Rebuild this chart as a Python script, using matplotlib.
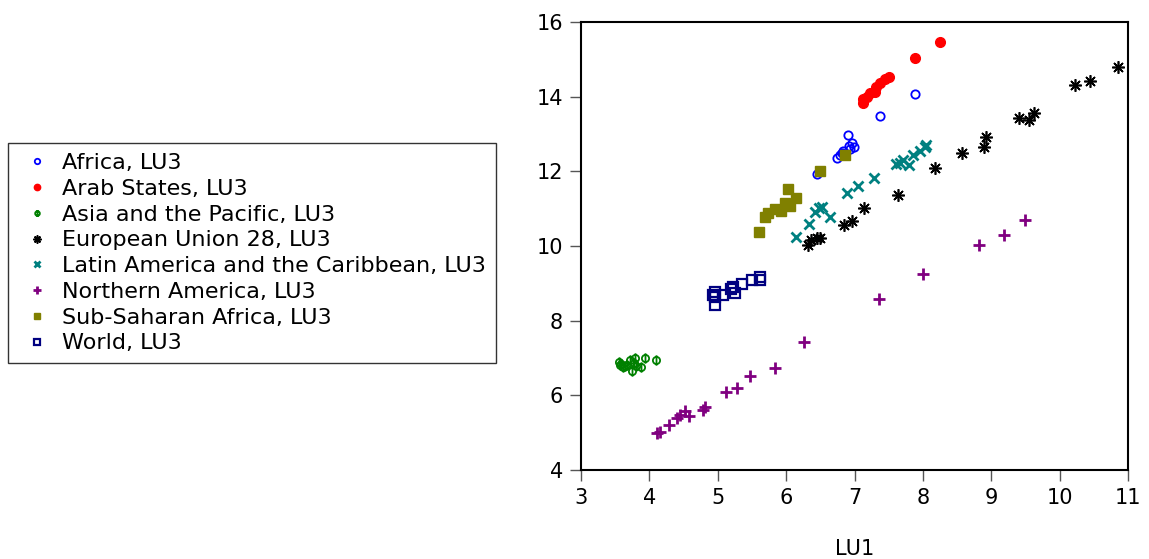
import matplotlib
matplotlib.use("Agg")
import matplotlib.pyplot as plt
from matplotlib.path import Path

plt.rcParams['font.family'] = ['DejaVu Sans']

# ---- data (LU1 on x, LU3 on y) ----
africa_x = [7.89, 7.38, 6.90, 6.96, 6.92, 6.99, 6.93, 6.83, 6.81, 6.79, 6.74, 6.45]
africa_y = [14.06, 13.48, 12.97, 12.75, 12.69, 12.64, 12.59, 12.55, 12.48, 12.44, 12.35, 11.93]

arab_x = [8.25, 7.89, 7.50, 7.45, 7.37, 7.32, 7.30, 7.23, 7.18, 7.12, 7.13]
arab_y = [15.46, 15.03, 14.52, 14.48, 14.36, 14.27, 14.13, 14.09, 14.00, 13.93, 13.84]

asia_x = [3.55, 3.57, 3.59, 3.61, 3.64, 3.67, 3.72, 3.74, 3.77, 3.79, 3.81, 3.88, 3.94, 4.10]
asia_y = [6.90, 6.81, 6.84, 6.77, 6.79, 6.81, 6.95, 6.66, 6.86, 6.99, 6.79, 6.77, 6.99, 6.95]

eu_x = [6.32, 6.37, 6.45, 6.49, 6.84, 6.97, 7.14, 7.64, 8.18, 8.57, 8.90, 8.93,
        9.41, 9.55, 9.63, 10.23, 10.45, 10.85]
eu_y = [10.03, 10.16, 10.21, 10.21, 10.56, 10.68, 11.01, 11.37, 12.10, 12.48, 12.65, 12.93,
        13.44, 13.37, 13.57, 14.31, 14.42, 14.80]

latam_x = [6.14, 6.34, 6.42, 6.48, 6.52, 6.64, 6.89, 7.05, 7.29, 7.61, 7.66, 7.71,
           7.79, 7.86, 7.96, 8.03, 8.05]
latam_y = [10.24, 10.59, 10.92, 11.01, 11.05, 10.77, 11.41, 11.61, 11.81, 12.19, 12.23, 12.30,
           12.17, 12.44, 12.54, 12.66, 12.70]

nam_x = [4.11, 4.16, 4.28, 4.40, 4.45, 4.52, 4.58, 4.79, 4.81, 5.12, 5.28, 5.47,
         5.84, 6.26, 7.36, 8.00, 8.82, 9.18, 9.49]
nam_y = [5.00, 5.03, 5.20, 5.38, 5.47, 5.58, 5.45, 5.61, 5.68, 6.10, 6.19, 6.52,
         6.72, 7.43, 8.57, 9.25, 10.03, 10.29, 10.70]

ssa_x = [5.61, 5.69, 5.74, 5.84, 5.93, 5.98, 6.06, 6.03, 6.14, 6.50, 6.86]
ssa_y = [10.38, 10.78, 10.88, 10.98, 10.95, 11.14, 11.07, 11.53, 11.28, 12.02, 12.44]

world_x = [4.96, 4.93, 4.96, 4.96, 5.07, 5.20, 5.23, 5.25, 5.36, 5.50, 5.62, 5.62]
world_y = [8.78, 8.69, 8.64, 8.42, 8.69, 8.84, 8.89, 8.73, 8.98, 9.09, 9.16, 9.09]

labels = ["Africa, LU3", "Arab States, LU3", "Asia and the Pacific, LU3",
          "European Union 28, LU3", "Latin America and the Caribbean, LU3",
          "Northern America, LU3", "Sub-Saharan Africa, LU3", "World, LU3"]

x_ticks = [3, 4, 5, 6, 7, 8, 9, 10, 11]
y_ticks = [4, 6, 8, 10, 12, 14, 16]

# phi-like marker: circle with vertical stroke
phi = Path.make_compound_path(Path.unit_circle(),
                              Path([(0, -1.45), (0, 1.45)], [Path.MOVETO, Path.LINETO]))

fig = plt.figure(figsize=(11.49, 5.59), dpi=100)
ax = fig.add_axes([581 / 1149, 89 / 559, 547 / 1149, 448 / 559])

ax.plot(africa_x, africa_y, ls='none', marker='o', ms=6, mfc='none', mec='#0000ff', mew=1.3, label=labels[0])
ax.plot(arab_x, arab_y, ls='none', marker='o', ms=7, mfc='#ff0000', mec='#ff0000', label=labels[1])
ax.plot(asia_x, asia_y, ls='none', marker=phi, ms=7.5, mfc='none', mec='#008000', mew=1.3, label=labels[2])
ax.plot(eu_x, eu_y, ls='none', marker=(8, 2, 0), ms=9, mec='#000000', mew=1.2, label=labels[3])
ax.plot(latam_x, latam_y, ls='none', marker='x', ms=7.5, mec='#008080', mew=2, label=labels[4])
ax.plot(nam_x, nam_y, ls='none', marker='+', ms=8, mec='#800080', mew=2, label=labels[5])
ax.plot(ssa_x, ssa_y, ls='none', marker='s', ms=7.5, mfc='#808000', mec='#808000', label=labels[6])
ax.plot(world_x, world_y, ls='none', marker='s', ms=6.5, mfc='none', mec='#000080', mew=1.6, label=labels[7])

ax.set_xlim(3, 11)
ax.set_ylim(4, 16)
ax.set_xticks(x_ticks)
ax.set_yticks(y_ticks)
ax.tick_params(axis='both', direction='out', length=8, width=1, labelsize=15, color='#555555')
ax.tick_params(axis='x', pad=5)
ax.tick_params(axis='y', pad=5)
for s in ax.spines.values():
    s.set_linewidth(1.5)
ax.set_xlabel("LU1", fontsize=15, labelpad=22)

leg = fig.legend(loc='upper left', bbox_to_anchor=(8 / 1149, 1 - 143 / 559),
                 fontsize=16, frameon=True, fancybox=False, edgecolor='black',
                 markerscale=0.65, handlelength=1.7, handletextpad=0.28,
                 labelspacing=0.26, borderpad=0.45, borderaxespad=0)
leg.get_frame().set_linewidth(1.0)

fig.savefig("out.png", dpi=100)
